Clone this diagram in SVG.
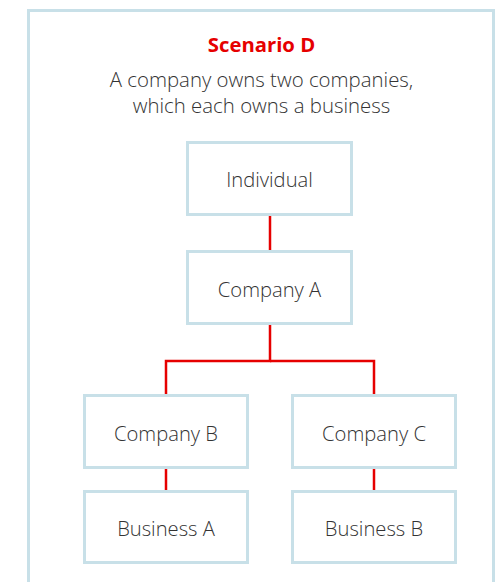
<svg xmlns="http://www.w3.org/2000/svg" width="499" height="582" viewBox="0 0 499 582">
<style>
.frame{fill:#ffffff;stroke:#c8e0e8;stroke-width:3}
.box{fill:#ffffff;stroke:#c8e0e8;stroke-width:3}
.lbl{font-family:"Open Sans","Liberation Sans",sans-serif;font-weight:300;font-size:20.2px;fill:#333333;text-anchor:middle}
.title{font-family:"Open Sans","Liberation Sans",sans-serif;font-weight:700;font-size:20.3px;fill:#e60000;text-anchor:middle}
.sub{font-family:"Open Sans","Liberation Sans",sans-serif;font-weight:300;font-size:20.4px;fill:#333333;text-anchor:middle}
.con{fill:none;stroke:#e60000;stroke-width:2.5}
</style>
<rect width="499" height="582" fill="#ffffff"/>
<path class="frame" d="M28.5,590 V10.5 H493.5 V590"/>
<text class="title" x="261.5" y="52">Scenario D</text>
<text class="sub" x="261.5" y="87">A company owns two companies,</text>
<text class="sub" x="261.5" y="113">which each owns a business</text>
<g id="connectors">
<line class="con" x1="270" y1="215" x2="270" y2="250"/>
<path class="con" d="M270,325 V361 H166 V394"/>
<path class="con" d="M270,361 H374 V394"/>
<line class="con" x1="166" y1="469" x2="166" y2="490"/>
<line class="con" x1="374" y1="469" x2="374" y2="490"/>
</g>
<g id="individual"><rect class="box" x="187.5" y="142.5" width="164" height="72"/><text class="lbl" x="269.5" y="187">Individual</text></g>
<g id="companyA"><rect class="box" x="187.5" y="251.5" width="164" height="72"/><text class="lbl" x="269.5" y="297">Company A</text></g>
<g id="companyB"><rect class="box" x="84.5" y="395.5" width="163" height="72"/><text class="lbl" x="166" y="441">Company B</text></g>
<g id="companyC"><rect class="box" x="292.5" y="395.5" width="163" height="72"/><text class="lbl" x="374" y="441">Company C</text></g>
<g id="businessA"><rect class="box" x="84.5" y="491.5" width="163" height="71"/><text class="lbl" x="166" y="536">Business A</text></g>
<g id="businessB"><rect class="box" x="292.5" y="491.5" width="163" height="71"/><text class="lbl" x="374" y="536">Business B</text></g>
</svg>
